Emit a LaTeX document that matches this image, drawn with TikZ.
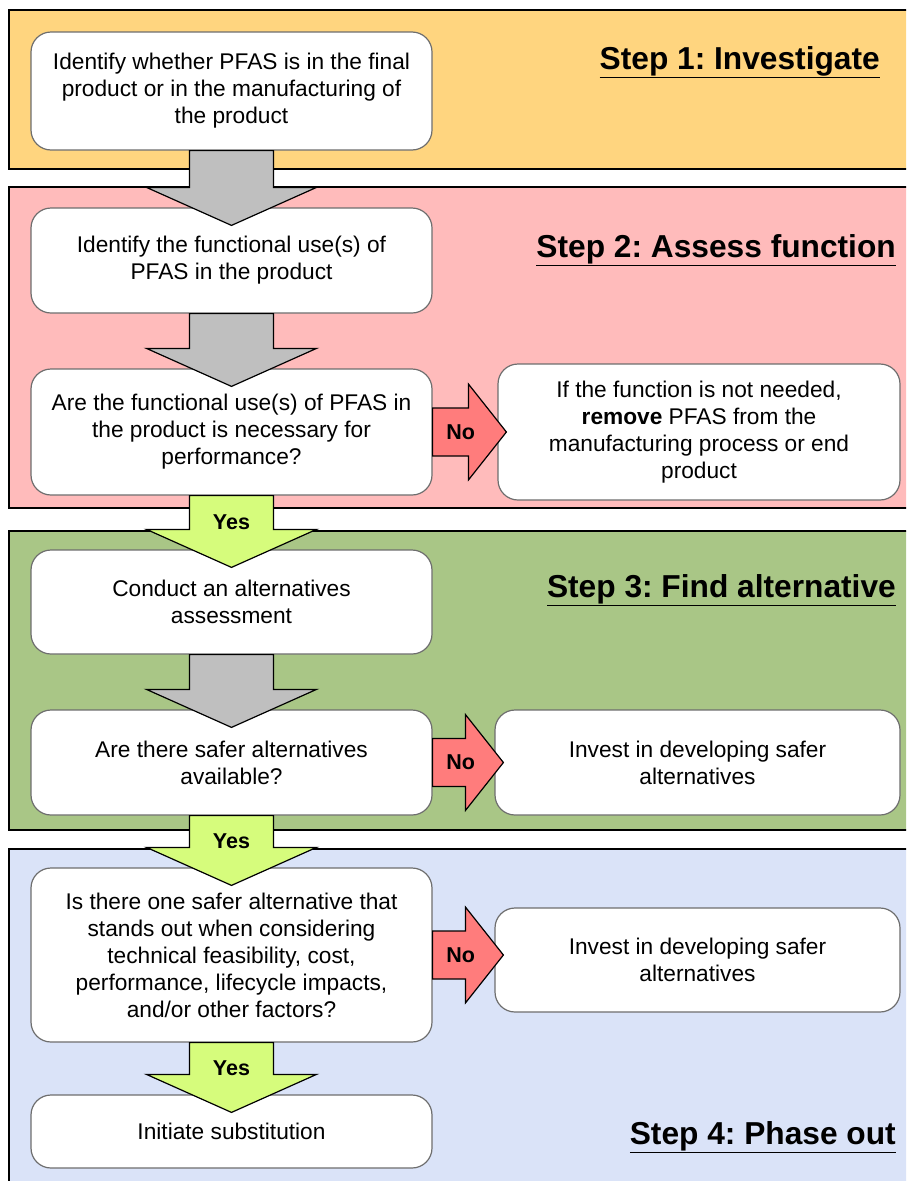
\documentclass[tikz,border=0pt]{standalone}
\usepackage{fontspec}
\setmainfont{Liberation Sans}
\frenchspacing
\usetikzlibrary{calc}
\definecolor{bandone}{HTML}{FFD57F}
\definecolor{bandtwo}{HTML}{FFBBBB}
\definecolor{bandthree}{HTML}{A9C686}
\definecolor{bandfour}{HTML}{DAE3F8}
\definecolor{arrgrey}{HTML}{BFBFBF}
\definecolor{arryes}{HTML}{D6FC7C}
\definecolor{arrno}{HTML}{FF7C7C}
\definecolor{boxline}{HTML}{6E6E6E}
\tikzset{
  band/.style={draw=black,line width=1.6pt},
  box/.style={draw=boxline,line width=1.2pt,fill=white,rounded corners=20pt,
    minimum width=401pt,align=center,inner sep=0pt,
    font=\fontsize{22.7}{27}\selectfont},
  blockarrow/.style={draw=black,line width=1.2pt,line join=miter},
  lbl/.style={font=\fontsize{21.5}{24}\selectfont\bfseries},
  heading/.style={anchor=base east,inner sep=0pt,font=\fontsize{31.7}{36}\selectfont\bfseries}
}

\begin{document}
\begin{tikzpicture}[x=1pt,y=-1pt]
  \useasboundingbox (0,0) rectangle (906,1181);
  \clip (0,0) rectangle (906,1181);
  \foreach \ya/\yb/\col in {10/169/bandone, 187/508/bandtwo, 531/830/bandthree, 849/1195/bandfour}{%
    \draw[band,fill=\col] (9,\ya) rectangle (915,\yb);
  }

  \node[box,minimum height=118pt] (box1) at (231.5,91) {Identify whether PFAS is in the final\\product or in the manufacturing of\\the product};
  \node[box,minimum height=105pt] (box2) at (231.5,260.5) {Identify the functional use(s) of\\PFAS in the product};
  \node[box,minimum height=126pt] (box3) at (231.5,432) {Are the functional use(s) of PFAS in\\the product is necessary for\\performance?};
  \node[box,minimum height=104pt] (box4) at (231.5,602) {Conduct an alternatives\\assessment};
  \node[box,minimum height=105pt] (box5) at (231.5,762.5) {Are there safer alternatives\\available?};
  \node[box,minimum height=174pt] (box6) at (231.5,955) {Is there one safer alternative that\\stands out when considering\\technical feasibility, cost,\\performance, lifecycle impacts,\\and/or other factors?};
  \node[box,minimum height=73pt] (box7) at (231.5,1131.5) {Initiate substitution};
  \node[box,minimum width=402pt,minimum height=136pt] (rem) at (699,432) {If the function is not needed,\\\textbf{remove} PFAS from the\\manufacturing process or end\\product};
  \node[box,minimum width=405pt,minimum height=105pt] (inv1) at (697.5,762.5) {Invest in developing safer\\alternatives};
  \node[box,minimum width=405pt,minimum height=104pt] (inv2) at (697.5,960) {Invest in developing safer\\alternatives};

  \foreach \a/\b/\col/\lab in {box1/box2/arrgrey/, box2/box3/arrgrey/, box3/box4/arryes/Yes,
                               box4/box5/arrgrey/, box5/box6/arryes/Yes, box6/box7/arryes/Yes}{%
    \coordinate (tip) at ($(\b.north)+(0,18)$);
    \coordinate (base) at ($(tip)+(0,-38)$);
    \draw[blockarrow,fill=\col] ($(\a.south)+(-42,0)$) -- ($(base)+(-42,0)$) -- ($(base)+(-85,0)$)
      -- (tip) -- ($(base)+(85,0)$) -- ($(base)+(42,0)$) -- ($(\a.south)+(42,0)$) -- cycle;
    \node[lbl] at ($(\a.south)!0.37!(tip)$) {\lab};
  }

  \foreach \a/\b in {box3/rem, box5/inv1, box6/inv2}{%
    \coordinate (tip) at ($(\a.east -| \b.west)+(9,0)$);
    \coordinate (base) at ($(tip)+(-38,0)$);
    \draw[blockarrow,fill=arrno] ($(\a.east)+(0,-24)$) -- ($(base)+(0,-24)$) -- ($(base)+(0,-48)$)
      -- (tip) -- ($(base)+(0,48)$) -- ($(base)+(0,24)$) -- ($(\a.east)+(0,24)$) -- cycle;
    \node[lbl] at ($(\a.east)+(28,0)$) {No};
  }

  \node[heading] (step1) at (880,69) {\underline{Step 1: Investigate}};
  \node[heading] (step2) at (896,257) {\underline{Step 2: Assess function}};
  \node[heading] (step3) at (896,597) {\underline{Step 3: Find alternative}};
  \node[heading] (step4) at (896,1144) {\underline{Step 4: Phase out}};
\end{tikzpicture}
\end{document}
